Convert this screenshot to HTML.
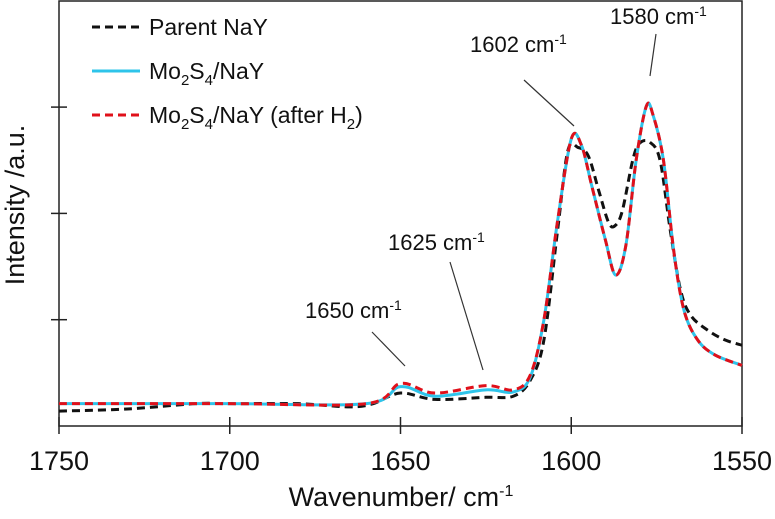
<!DOCTYPE html>
<html><head><meta charset="utf-8"><style>
body{margin:0;background:#fff;}
svg text{font-family:"Liberation Sans",Arial,sans-serif;fill:#111;}
</style></head><body>
<svg id="chart" width="775" height="514">
<g id="axes"></g>
<g id="series"></g>
<g id="annot"></g>
<g id="legend"></g>
<text x="401" y="506" text-anchor="middle" font-size="27">Wavenumber/ cm<tspan font-size="16" dy="-10">-1</tspan></text>
<text transform="translate(24,205) rotate(-90)" text-anchor="middle" font-size="27">Intensity /a.u.</text>
</svg>
<script>
const xTicks=[1750,1700,1650,1600,1550];
const yTicks=[0,1,2,3,4];
const blackX=[1750,1730,1710,1700,1680,1665,1658,1650,1640,1625,1617,1612,1608,1604,1601,1598,1595,1592,1589,1587,1585,1582,1580,1577,1574,1571,1568,1565,1560,1555,1550];
const blackY=[0.14,0.16,0.21,0.21,0.21,0.18,0.21,0.31,0.25,0.27,0.28,0.43,0.81,1.84,2.59,2.62,2.54,2.22,1.91,1.89,2.03,2.50,2.66,2.67,2.50,1.84,1.28,1.04,0.90,0.81,0.76];
const moX=[1750,1700,1660,1650,1640,1625,1617,1612,1608,1604,1600,1597,1594,1590,1587,1584,1581,1578,1576,1573,1570,1567,1563,1558,1550];
const redY=[0.21,0.21,0.21,0.40,0.31,0.38,0.34,0.48,1.00,1.93,2.70,2.64,2.26,1.75,1.42,1.70,2.50,3.01,2.92,2.50,1.65,1.09,0.81,0.67,0.57];
const blueY=[0.21,0.21,0.21,0.37,0.28,0.34,0.32,0.46,1.00,1.93,2.70,2.64,2.26,1.75,1.42,1.70,2.50,3.01,2.92,2.50,1.65,1.09,0.81,0.67,0.57];
const NS='http://www.w3.org/2000/svg';
const L=59,R=742,T=1,B=426;
const sx=v=>L+(1750-v)/(200)*(R-L);
const sy=v=>B-v*106.3;
function mk(tag,attrs,parent){const e=document.createElementNS(NS,tag);for(const k in attrs)e.setAttribute(k,attrs[k]);parent.appendChild(e);return e;}
const ax=document.getElementById('axes');
const frame=mk('rect',{x:L,y:T,width:R-L,height:B-T,fill:'none',stroke:'#222','stroke-width':1.5},ax);


xTicks.forEach(t=>{
 const l=mk('line',{x1:sx(t),x2:sx(t),y1:B-9,y2:B+8,stroke:'#222','stroke-width':1.5},ax);
 
 
 const tx=mk('text',{x:sx(t),y:B+44,'text-anchor':'middle','font-size':27},ax);tx.textContent=t;
 
 
});
yTicks.forEach(t=>{
 if(t===0||t===4)return;
 const l=mk('line',{x1:L-8,x2:L+8,y1:sy(t),y2:sy(t),stroke:'#222','stroke-width':1.5},ax);
 
 
});
function pathD(xs,ys){
 const p=xs.map((x,i)=>[sx(x),sy(ys[i])]);
 let d='M'+p[0][0]+','+p[0][1];
 for(let i=0;i<p.length-1;i++){
  const p0=p[Math.max(0,i-1)],p1=p[i],p2=p[i+1],p3=p[Math.min(p.length-1,i+2)];
  const c1=[p1[0]+(p2[0]-p0[0])/6,p1[1]+(p2[1]-p0[1])/6];
  const c2=[p2[0]-(p3[0]-p1[0])/6,p2[1]-(p3[1]-p1[1])/6];
  d+=`C${c1[0]},${c1[1]} ${c2[0]},${c2[1]} ${p2[0]},${p2[1]}`;
 }
 return d;
}
const sg=document.getElementById('series');
const s1=mk('path',{d:pathD(blackX,blackY),fill:'none',stroke:'#111','stroke-width':3,'stroke-dasharray':'8,5'},sg);


const s2=mk('path',{d:pathD(moX,blueY),fill:'none',stroke:'#2ec4ea','stroke-width':3},sg);


const s3=mk('path',{d:pathD(moX,redY),fill:'none',stroke:'#e0101a','stroke-width':3,'stroke-dasharray':'8,5'},sg);


const an=document.getElementById('annot');
[[305,318,'1650',372,332,405,366],[388,250,'1625',450,262,483,370],[470,52,'1602',524,80,574,126],[610,24,'1580',656,34,650,76]].forEach(a=>{
 const t=mk('text',{x:a[0],y:a[1],'font-size':22},an);
 t.innerHTML=a[2]+' cm<tspan font-size="14" dy="-8">-1</tspan>';
 
 
 const l=mk('line',{x1:a[3],y1:a[4],x2:a[5],y2:a[6],stroke:'#333','stroke-width':1.2},an);
 
 
});
const lg=document.getElementById('legend');
[['#111','8,5','Parent NaY',27],['#2ec4ea','','Mo<tspan font-size="15" dy="6">2</tspan><tspan dy="-6">S</tspan><tspan font-size="15" dy="6">4</tspan><tspan dy="-6">/NaY</tspan>',71],['#e0101a','8,5','Mo<tspan font-size="15" dy="6">2</tspan><tspan dy="-6">S</tspan><tspan font-size="15" dy="6">4</tspan><tspan dy="-6">/NaY (after H</tspan><tspan font-size="15" dy="6">2</tspan><tspan dy="-6">)</tspan>',115]].forEach((e,i)=>{
 const l=mk('line',{x1:92,x2:140,y1:e[3],y2:e[3],stroke:e[0],'stroke-width':3,'stroke-dasharray':e[1]},lg);
 
 
 const t=mk('text',{x:149,y:e[3]+8,'font-size':23},lg);t.innerHTML=e[2];
 
 
});
</script>
</body></html>
